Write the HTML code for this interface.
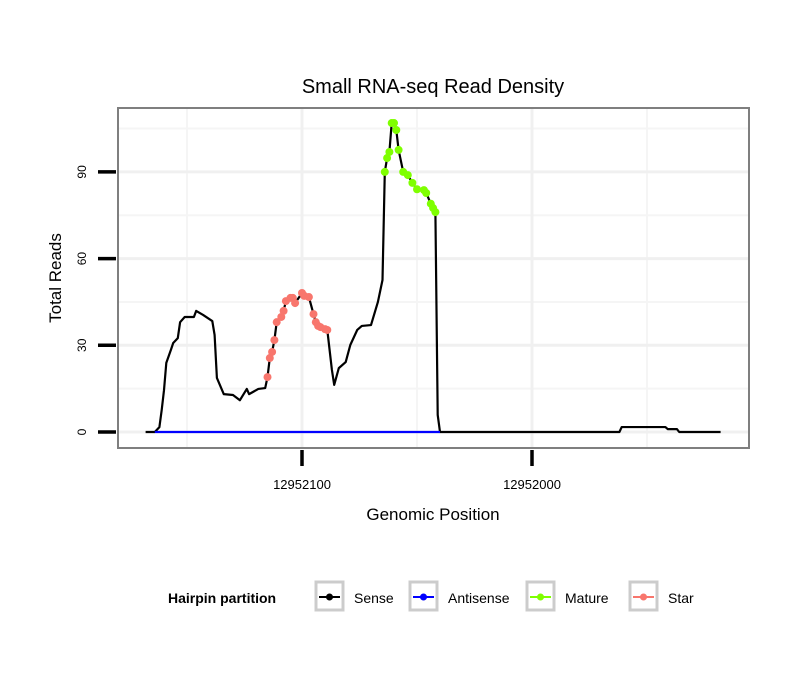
<!DOCTYPE html>
<html><head><meta charset="utf-8"><style>
body{margin:0;background:#fff;font-family:"Liberation Sans",sans-serif}
</style></head><body>
<svg id="chart" width="810" height="690" xmlns="http://www.w3.org/2000/svg" font-family="Liberation Sans, sans-serif">
<rect width="810" height="690" fill="#fff"/>
<text x="433" y="93" font-size="20" text-anchor="middle">Small RNA-seq Read Density</text>
<g id="grid"></g>
<g id="marks"></g>
<rect x="118" y="108" width="631" height="340" fill="none" stroke="#7f7f7f" stroke-width="2"/>
<g id="axes"></g>
<text x="433" y="520" font-size="17" text-anchor="middle">Genomic Position</text>
<text transform="translate(61,278) rotate(-90)" font-size="17" text-anchor="middle">Total Reads</text>
<g font-size="14">
<text x="168" y="603" font-weight="bold">Hairpin partition</text>
<g id="legend"></g>
</g>
</svg>
<script>
const positions=[12952168,12952164,12952162,12952161,12952160,12952159,12952157,12952156,12952154,12952153,12952151,12952147,12952146,12952143,12952139,12952138,12952137,12952134,12952130,12952127,12952124,12952123,12952119,12952116,
12952115,12952114,12952113,12952112,12952111,12952109,12952108,12952107,12952105,12952104,12952103,12952100,12952099,12952097,12952095,12952094,12952093,12952092,12952090,12952089,
12952087,12952086,12952084,12952081,12952079,12952076,12952074,12952070,12952067,12952065,
12952064,12952063,12952062,12952061,12952060,12952059,12952058,12952056,12952054,12952052,12952050,12952047,12952046,12952044,12952043,
12952042,12952041,12952040,12951962,12951961,12951942,12951941,12951937,12951936,12951918];
const reads=[0,0,1.7,7.6,14.5,23.9,28.4,30.8,32.5,38,39.8,39.8,41.9,40.5,38.4,33.6,18.7,13.1,12.8,11,14.9,13.1,14.9,15.2,
19,25.6,27.7,31.8,38,39.8,41.9,45.3,46.4,46.4,44.6,48.1,47.1,46.7,40.8,38,36.7,36.3,35.6,35.3,
21.5,16.3,22.1,24.2,30.1,35.3,36.7,37,45,52.6,
90,94.8,96.9,106.9,106.9,104.5,97.6,90,88.9,86.2,84,83.7,82.7,79,77.5,
76.1,5.9,0,0,1.7,1.7,1,1,0,0];
const partition=[];
const starStart=24,starEnd=43,matStart=54,matEnd=69;
for(let i=0;i<positions.length;i++)partition.push(i>=starStart&&i<=starEnd?'Star':(i>=matStart&&i<=matEnd?'Mature':'Sense'));
const antiPositions=[12952164,12952040];
const antiReads=[0,0];
const yTicks=[0,30,60,90];
const xTicks=[12952100,12952000];
const xTickLabels=['12952100','12952000'];

const NS='http://www.w3.org/2000/svg';
const X=p=>302+(12952100-p)*2.3;
const Y=v=>432-v*2.89;
function mk(tag,attrs,parent){const e=document.createElementNS(NS,tag);for(const k in attrs)e.setAttribute(k,attrs[k]);parent.appendChild(e);return e;}
const grid=document.getElementById('grid'),marks=document.getElementById('marks'),axes=document.getElementById('axes'),legend=document.getElementById('legend');
[15,45,75,105].forEach(v=>{const l=mk('line',{x1:118,x2:749,y1:Y(v),y2:Y(v),stroke:'#f5f5f5','stroke-width':2},grid);

});
[12952150,12952050,12951950].forEach(p=>{const l=mk('line',{x1:X(p),x2:X(p),y1:108,y2:448,stroke:'#f5f5f5','stroke-width':2},grid);

});
yTicks.forEach(v=>{const l=mk('line',{x1:118,x2:749,y1:Y(v),y2:Y(v),stroke:'#f0f0f0','stroke-width':3},grid);

});
xTicks.forEach(p=>{const l=mk('line',{x1:X(p),x2:X(p),y1:108,y2:448,stroke:'#f0f0f0','stroke-width':3},grid);

});
const sp=mk('polyline',{points:positions.map((p,i)=>X(p)+','+Y(reads[i])).join(' '),fill:'none',stroke:'#000','stroke-width':2.2,'stroke-linejoin':'round'},marks);


const ap=mk('polyline',{points:antiPositions.map((p,i)=>X(p)+','+Y(antiReads[i])).join(' '),fill:'none',stroke:'#0000ff','stroke-width':2.2},marks);


positions.forEach((p,i)=>{if(partition[i]==='Sense')return;
const c=mk('circle',{cx:X(p),cy:Y(reads[i]),r:4,fill:partition[i]==='Star'?'#f8766d':'#7fff00'},marks);

});
yTicks.forEach(v=>{const t=mk('line',{x1:98,x2:116,y1:Y(v),y2:Y(v),stroke:'#000','stroke-width':3.5},axes);


const tx=mk('text',{transform:`translate(86,${Y(v)}) rotate(-90)`,'font-size':12,'text-anchor':'middle'},axes);tx.textContent=v;

});
xTicks.forEach((p,i)=>{const t=mk('line',{x1:X(p),x2:X(p),y1:450,y2:466,stroke:'#000','stroke-width':3.5},axes);


const tx=mk('text',{x:X(p),y:489,'font-size':13,'text-anchor':'middle'},axes);tx.textContent=xTickLabels[i];

});
const items=[['Sense','#000',314],['Antisense','#0000ff',408],['Mature','#7fff00',525],['Star','#f8766d',628]];
items.forEach(([n,c,x])=>{const g=mk('g',{},legend);


mk('rect',{x:x+2,y:582,width:27,height:28,fill:'#fff',stroke:'#cccccc','stroke-width':3},g);
mk('line',{x1:x+5,x2:x+26,y1:597,y2:597,stroke:c,'stroke-width':2},g);
mk('circle',{cx:x+15.5,cy:597,r:3.5,fill:c},g);
const t=mk('text',{x:x+40,y:603},g);t.textContent=n;});
</script>
</body></html>
